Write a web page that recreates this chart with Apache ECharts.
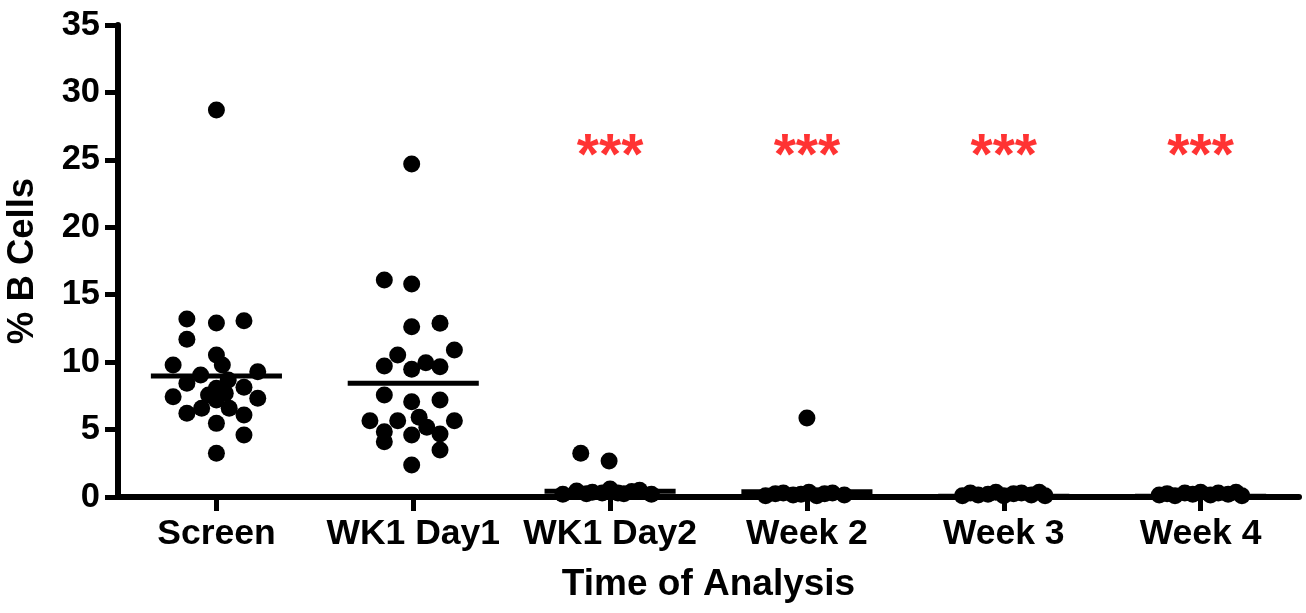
<!DOCTYPE html>
<html>
<head>
<meta charset="utf-8">
<script src="https://cdn.jsdelivr.net/npm/echarts@6/dist/echarts.min.js"></script>
<style>
html,body{margin:0;padding:0;background:#fff;}
#chart{width:1306px;height:613px;}
</style>
</head>
<body>
<div id="chart"></div>
<script>
// ---- data ----
const categories = ['Screen', 'WK1 Day1', 'WK1 Day2', 'Week 2', 'Week 3', 'Week 4'];
const yMin = 0, yMax = 35, yStep = 5;

// values (% B cells) per group, with horizontal scatter offsets (fraction of category width)
const screenValues = [13.2, 12.9, 13.07, 11.69, 10.53, 9.79, 9.79, 9.29, 9.05, 8.68, 8.43, 8.13, 8.06, 7.44, 7.32, 7.56, 7.69, 6.58, 6.58, 6.21, 6.08, 5.46, 4.6, 3.24, 28.7, 7.19];
const screenJitter = [-0.15, 0, 0.14, -0.15, 0, 0.03, -0.22, 0.21, -0.08, 0.06, -0.15, 0.14, 0, -0.22, 0.21, -0.04, 0.045, -0.075, 0.065, -0.15, 0.14, 0, 0.14, 0, 0, 0];

const wk1d1Values = [16.09, 15.79, 12.63, 12.88, 10.9, 10.53, 9.71, 9.96, 9.66, 9.47, 7.56, 7.07, 7.19, 5.66, 5.66, 5.91, 5.66, 5.17, 4.84, 4.1, 4.6, 4.67, 3.49, 2.37, 24.69];
const wk1d1Jitter = [-0.147, -0.008, -0.008, 0.136, 0.209, -0.079, -0.147, 0.064, 0.136, -0.008, -0.147, -0.008, 0.136, -0.22, -0.079, 0.03, 0.209, 0.069, -0.147, -0.147, -0.008, 0.136, 0.136, -0.008, -0.008];

const wk1d2Values = [3.24, 2.67, 0.2, 0.45, 0.25, 0.35, 0.3, 0.6, 0.3, 0.25, 0.4, 0.5, 0.2];
const wk1d2Jitter = [-0.149, -0.005, -0.24, -0.17, -0.12, -0.09, -0.04, 0, 0.04, 0.07, 0.11, 0.15, 0.21];

const week2Values = [5.86, 0.1, 0.25, 0.3, 0.15, 0.2, 0.35, 0.1, 0.25, 0.3, 0.15];
const week2Jitter = [0, -0.21, -0.16, -0.12, -0.07, -0.03, 0.01, 0.05, 0.09, 0.13, 0.19];

const week3Values = [0.1, 0.3, 0.15, 0.2, 0.35, 0.1, 0.25, 0.3, 0.15, 0.35, 0.1];
const week3Jitter = [-0.21, -0.17, -0.13, -0.08, -0.04, 0, 0.05, 0.09, 0.14, 0.18, 0.21];

const week4Values = [0.15, 0.25, 0.1, 0.3, 0.2, 0.35, 0.15, 0.3, 0.2, 0.35, 0.1];
const week4Jitter = [-0.21, -0.17, -0.13, -0.08, -0.04, 0, 0.05, 0.09, 0.14, 0.18, 0.21];

// group mean lines
const meanValues = [8.97, 8.43, 0.43, 0.39, 0.05, 0.05];

// significance markers
const sigCategories = [2, 3, 4, 5];
const sigLabel = '***';
const sigY = 25.1;

// ---- chart ----
const FONT = 'Arial, "Liberation Sans", Helvetica, sans-serif';
const groups = [
  [screenValues, screenJitter],
  [wk1d1Values, wk1d1Jitter],
  [wk1d2Values, wk1d2Jitter],
  [week2Values, week2Jitter],
  [week3Values, week3Jitter],
  [week4Values, week4Jitter]
];
const MEAN_HALF = 0.333;

const scatterData = [];
groups.forEach((g, ci) => {
  g[0].forEach((v, i) => scatterData.push([ci + 0.5 + g[1][i], v]));
});

const series = [];
meanValues.forEach((m, ci) => {
  series.push({
    type: 'line', xAxisIndex: 1, yAxisIndex: 0,
    data: [[ci + 0.5 - MEAN_HALF, m], [ci + 0.5 + MEAN_HALF, m]],
    symbol: 'none', silent: true, z: 3,
    lineStyle: { color: '#000', width: 5, cap: 'butt' }
  });
});
series.push({
  type: 'scatter', xAxisIndex: 1, yAxisIndex: 0,
  data: scatterData, symbol: 'circle', symbolSize: 17, z: 4,
  itemStyle: { color: '#000', opacity: 1 }
});
series.push({
  type: 'scatter', xAxisIndex: 1, yAxisIndex: 0,
  data: sigCategories.map(ci => [ci + 0.5, sigY]),
  symbolSize: 0, z: 5, silent: true,
  label: {
    show: true, position: 'inside', formatter: sigLabel,
    color: '#ff0000', fontSize: 57, fontFamily: FONT, fontWeight: 'bold'
  }
});

const chart = echarts.init(document.getElementById('chart'), null, { renderer: 'canvas' });
chart.setOption({
  animation: false,
  backgroundColor: '#fff',
  grid: { left: 118, right: 7, top: 25, bottom: 116, containLabel: false, outerBoundsMode: 'none' },
  xAxis: [
    {
      type: 'category', data: categories, boundaryGap: true,
      axisLine: { show: true, lineStyle: { color: '#000', width: 6 } },
      axisTick: { show: true, alignWithLabel: true, length: 14, lineStyle: { color: '#000', width: 5 } },
      axisLabel: { margin: 19, color: '#000', fontSize: 35.5, fontWeight: 'bold', fontFamily: FONT, interval: 0 },
      splitLine: { show: false },
      name: 'Time of Analysis', nameLocation: 'middle', nameGap: 69,
      nameTextStyle: { color: '#000', fontSize: 37, fontWeight: 'bold', fontFamily: FONT }
    },
    { type: 'value', min: 0, max: categories.length, show: false, splitLine: { show: false } }
  ],
  yAxis: {
    type: 'value', min: yMin, max: yMax, interval: yStep,
    axisLine: { show: true, lineStyle: { color: '#000', width: 6 } },
    axisTick: { show: true, length: 13, lineStyle: { color: '#000', width: 5 } },
    axisLabel: { margin: 18, color: '#000', fontSize: 34.5, fontWeight: 'bold', fontFamily: FONT },
    splitLine: { show: false },
    name: '% B Cells', nameLocation: 'middle', nameRotate: 90, nameGap: 77,
    nameTextStyle: { color: '#000', fontSize: 36.5, fontWeight: 'bold', fontFamily: FONT }
  },
  series: series
});
</script>
</body>
</html>
